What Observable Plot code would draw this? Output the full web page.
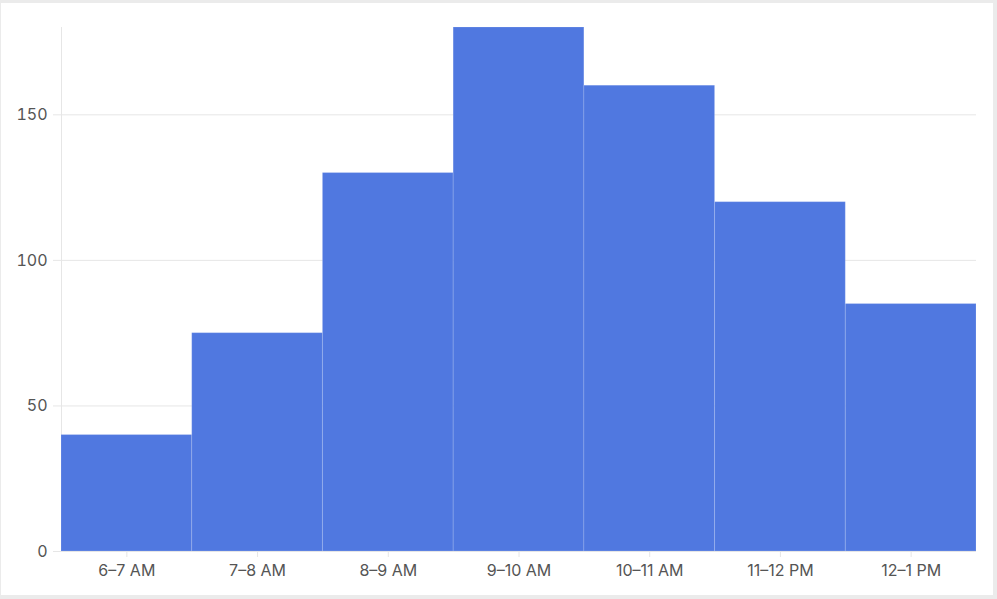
<!DOCTYPE html>
<html>
<head>
<meta charset="utf-8">
<script src="https://cdn.jsdelivr.net/npm/d3@7"></script>
<script src="https://cdn.jsdelivr.net/npm/@observablehq/plot@0.6"></script>
<style>
  html, body { margin: 0; padding: 0; background: #ebebeb; width: 997px; height: 599px; overflow: hidden; }
  #frame { position: absolute; left: 1px; top: 3px; width: 992px; height: 592px; background: #fff; }
</style>
</head>
<body>
<div id="frame"></div>
<script>
const categories = ["6–7 AM", "7–8 AM", "8–9 AM", "9–10 AM", "10–11 AM", "11–12 PM", "12–1 PM"];
const counts = [40, 75, 130, 180, 160, 120, 85];
const yTicks = [0, 50, 100, 150];

const data = categories.map((c, i) => ({category: c, count: counts[i]}));

const chart = Plot.plot({
  width: 992,
  height: 592,
  marginTop: 24,
  marginLeft: 60,
  marginRight: 17,
  marginBottom: 44,
  style: {fontSize: "16px", fontFamily: "Inter, 'Open Sans', sans-serif", color: "#555", background: "transparent"},
  x: {domain: categories, padding: 0, round: false, label: null},
  y: {domain: [0, 180], label: null},
  marks: [
    Plot.gridY(yTicks, {stroke: "#e6e6e6", strokeOpacity: 1}),
    Plot.frame({anchor: "left", stroke: "#e6e6e6"}),
    Plot.axisY({ticks: yTicks, tickSize: 8, tickPadding: 6, stroke: "#e6e6e6", color: "#555", label: null, fontSize: 16}),
    Plot.axisX({tickSize: 6, tickPadding: 7, stroke: "#e6e6e6", color: "#555", label: null, fontSize: 16}),
    Plot.barY(data, {x: "category", y: "count", fill: "#5078e0", stroke: "white", strokeOpacity: 0.15, strokeWidth: 1, inset: 0}),
    Plot.ruleY([0], {stroke: "#e6e6e6"})
  ]
});
document.getElementById("frame").appendChild(chart);
</script>
</body>
</html>
